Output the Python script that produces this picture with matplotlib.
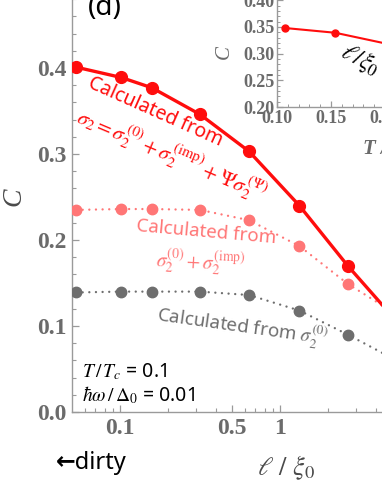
import numpy as np
import matplotlib
matplotlib.use("Agg")
import matplotlib.pyplot as plt
from matplotlib.ticker import FixedLocator, MultipleLocator, NullFormatter

plt.rcParams['mathtext.fontset'] = 'stix'

# main panel data (l / xi0 versus C)
ell = [0.053, 0.1015, 0.158, 0.316, 0.64, 1.32, 2.65, 5.1]
c_full = [0.401, 0.389, 0.377, 0.346, 0.303, 0.240, 0.170, 0.110]
c_imp = [0.235, 0.236, 0.236, 0.235, 0.223, 0.193, 0.149, 0.116]
c_zero = [0.139, 0.140, 0.140, 0.140, 0.136, 0.118, 0.090, 0.062]

# inset data (T / Tc versus C)
t_in = [0.107, 0.154, 0.205]
c_in = [0.348, 0.339, 0.317]

xticks_major = [0.1, 0.5, 1, 5]
xtick_labels = ['0.1', '0.5', '1', '']
yticks_major = [0.0, 0.1, 0.2, 0.3, 0.4, 0.5]

red = '#ff0d0d'
pink = '#ff7676'
gray = '#6e6e6e'
lab = '#6b6b6b'
spc = '#9a9a9a'

W, H = 382, 494
fig = plt.figure(figsize=(W / 100, H / 100), dpi=100)

def px(x0, y0, w, h):
    # pixel box (left, bottom edge from top, width, height) -> figure fraction
    return [x0 / W, 1 - y0 / H, w / W, h / H]

ax = fig.add_axes(px(72, 412, 368, 430))
ax.set_xscale('log')
ax.set_xlim(0.05, 10)
ax.set_ylim(0, 0.5)

dots = (0, (0.01, 2.8))
ax.plot(ell, c_zero, ls=dots, lw=1.7, color=gray, marker='o', ms=7.5,
        dash_capstyle='round', zorder=3)
ax.plot(ell, c_imp, ls=dots, lw=1.7, color=pink, marker='o', ms=7.5,
        dash_capstyle='round', zorder=3)
ax.plot(ell, c_full, ls='-', lw=2.4, color=red, marker='o', ms=8.5, zorder=4)

ax.xaxis.set_major_locator(FixedLocator(xticks_major))
ax.set_xticklabels(xtick_labels)
minors = [m * 10.0 ** e for e in (-2, -1, 0) for m in range(2, 10) if m != 5]
ax.xaxis.set_minor_locator(FixedLocator(minors))
ax.xaxis.set_minor_formatter(NullFormatter())
ax.yaxis.set_major_locator(FixedLocator(yticks_major))
ax.yaxis.set_minor_locator(MultipleLocator(0.02))
ax.set_yticklabels(['%.1f' % v for v in yticks_major])

for s in ax.spines.values():
    s.set_color(spc)
    s.set_linewidth(1.0)
ax.tick_params(which='both', direction='in', color=spc, top=False, right=False)
ax.tick_params(which='major', length=5, width=0.9)
ax.tick_params(which='minor', length=3, width=0.8)
ax.tick_params(axis='both', which='major', labelsize=17, labelcolor=lab, pad=4)
for t in ax.get_xticklabels() + ax.get_yticklabels():
    t.set_fontfamily('Liberation Serif')
    t.set_fontweight('bold')

# axis labels and texts in pixel positions
def ftext(x, y, s, **kw):
    fig.text(x / W, 1 - y / H, s, **kw)

ftext(14, 197, 'C', fontsize=20, family='Liberation Serif', style='italic',
      color='#4a4a4a', rotation=90, ha='center', va='center')
ftext(286, 468, r'$\ell\ /\ \xi_0$', fontsize=19, color='#4a4a4a',
      ha='center', va='center')
ftext(91, 463, '←dirty', fontsize=17, family=['Noto Sans', 'DejaVu Sans'],
      weight='bold', color='black', ha='center', va='center')
ftext(105, 8, '(d)', fontsize=20, family='Noto Sans', color='black',
      ha='center', va='center')

ftext(155, 112, 'Calculated from', fontsize=14, family='Noto Sans', weight='bold',
      color=red, rotation=-24, ha='center', va='center', rotation_mode='anchor')
ftext(172, 155, r'$\sigma_2=\sigma_2^{(0)}+\sigma_2^{(\mathrm{imp})}+\Psi\sigma_2^{(\Psi)}$',
      fontsize=15, color=red, rotation=-23, ha='center', va='center',
      rotation_mode='anchor')
ftext(206, 232, 'Calculated from', fontsize=13.5, family='Noto Sans', weight='bold',
      color=pink, rotation=-5, ha='center', va='center', rotation_mode='anchor')
ftext(200, 263, r'$\sigma_2^{(0)}+\sigma_2^{(\mathrm{imp})}$', fontsize=14,
      color=pink, rotation=-3, ha='center', va='center', rotation_mode='anchor')
ftext(242, 327, r'Calculated from $\sigma_2^{(0)}$', fontsize=13.5, family='Noto Sans',
      weight='bold', color=gray, rotation=-8, ha='center', va='center',
      rotation_mode='anchor')
ftext(82, 372, r'$T\,/\,T_c$ = 0.1', fontsize=14, family='Noto Sans',
      color='black', ha='left', va='center')
ftext(82, 395, r'$\hbar\omega\,/\,\Delta_0$ = 0.01', fontsize=14, family='Noto Sans',
      color='black', ha='left', va='center')

# inset
axi = fig.add_axes(px(277, 107, 216, 133.5))
axi.set_facecolor('white')
axi.plot(t_in, c_in, '-', color=red, lw=1.5, marker='o', ms=5, zorder=3)
axi.set_xlim(0.10, 0.30)
axi.set_ylim(0.20, 0.45)
axi.xaxis.set_major_locator(MultipleLocator(0.05))
axi.xaxis.set_minor_locator(MultipleLocator(0.01))
axi.yaxis.set_major_locator(MultipleLocator(0.05))
axi.yaxis.set_minor_locator(MultipleLocator(0.01))
axi.xaxis.set_major_formatter(matplotlib.ticker.FormatStrFormatter('%.2f'))
axi.yaxis.set_major_formatter(matplotlib.ticker.FormatStrFormatter('%.2f'))
for s in axi.spines.values():
    s.set_color(spc)
    s.set_linewidth(1.0)
axi.tick_params(which='both', direction='in', color=spc)
axi.tick_params(which='major', length=4, width=0.9)
axi.tick_params(which='minor', length=2, width=0.7)
axi.tick_params(axis='both', which='major', labelsize=13, labelcolor=lab, pad=2)
for t in axi.get_xticklabels() + axi.get_yticklabels():
    t.set_fontfamily('Liberation Serif')
    t.set_fontweight('bold')

ftext(224, 52, 'C', fontsize=15, family='Liberation Serif', style='italic',
      color=lab, rotation=90, ha='center', va='center')
ftext(363, 149, 'T / T', fontsize=15, family='Liberation Serif', style='italic',
      weight='bold', color=lab, ha='left', va='center')
ftext(360, 60, r'$\ell/\xi_0$', fontsize=17, color='black', rotation=-28,
      ha='center', va='center', rotation_mode='anchor')

fig.savefig('out.png', dpi=100)
